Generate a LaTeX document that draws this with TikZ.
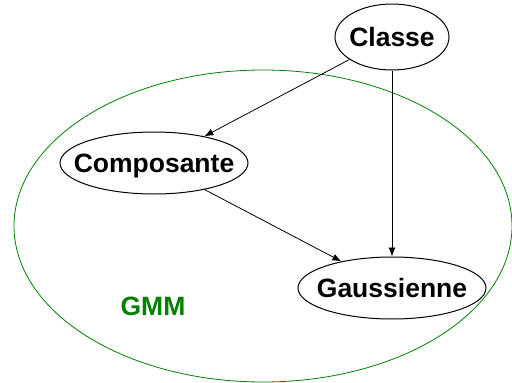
\documentclass[tikz,border=0pt]{standalone}
\usepackage{fontspec}
\setmainfont{Liberation Sans}
\usetikzlibrary{shapes.geometric,arrows.meta}
\definecolor{gmmgreen}{RGB}{0,128,0}
\newcommand{\zerobox}[1]{\smash{\raisebox{-0.36em}{\makebox[0pt]{#1}}}}
\tikzset{
  varnode/.style={ellipse, draw=black, line width=1pt, inner sep=0pt,
    font=\fontsize{26.5}{30}\selectfont\bfseries},
  edge/.style={draw=black, line width=0.8pt, -{Latex[length=9pt,width=7pt]}},
  group/.style={ellipse, draw=gmmgreen, line width=0.8pt, inner sep=0pt}
}
\begin{document}
\begin{tikzpicture}[x=1pt,y=-1pt]
\useasboundingbox (0,0) rectangle (512,383);
\node[group, minimum width=498pt, minimum height=312pt] (gmm) at (263,226) {};
\node[text=gmmgreen, font=\fontsize{26.5}{30}\selectfont\bfseries] (gmmlabel) at (153,306) {GMM};
\node[varnode, minimum width=114pt, minimum height=66pt] (classe) at (392,37) {\zerobox{Classe}};
\node[varnode, minimum width=188pt, minimum height=62pt] (comp) at (154,163) {\zerobox{Composante}};
\node[varnode, minimum width=188pt, minimum height=62pt] (gauss) at (392,288) {\zerobox{Gaussienne}};
\draw[edge] (classe) -- (comp);
\draw[edge] (classe) -- (gauss);
\draw[edge] (comp) -- (gauss);
\end{tikzpicture}
\end{document}
